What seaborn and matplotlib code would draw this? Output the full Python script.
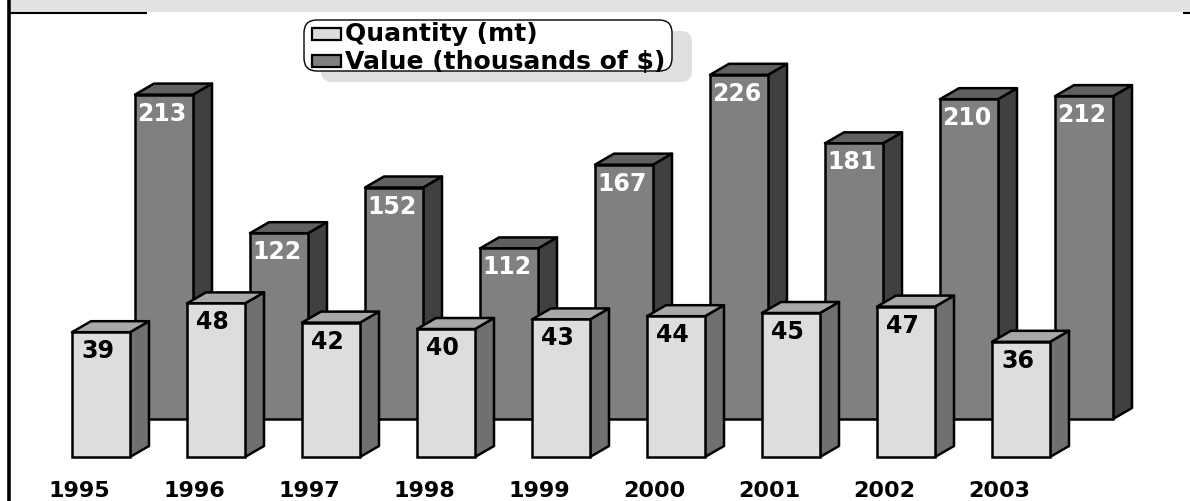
import matplotlib
matplotlib.use("Agg")
import matplotlib.pyplot as plt
from matplotlib.patches import Polygon, Rectangle, FancyBboxPatch
import pandas as pd
import seaborn as sns

years = ["1995", "1996", "1997", "1998", "1999", "2000", "2001", "2002", "2003"]
quantity = [39, 48, 42, 40, 43, 44, 45, 47, 36]
value = [213, 122, 152, 112, 167, 226, 181, 210, 212]
legend_labels = ["Quantity (mt)", "Value (thousands of $)"]

W, H = 1190, 502
EDGE = 1.8
STEP = 115
sns.set_theme(style="white")
plt.rcParams["font.family"] = ["DejaVu Sans"]
fig = plt.figure(figsize=(W / 100, H / 100), dpi=100, facecolor="white")


def make_axes(x0, y0, scale, z):
    ax = fig.add_axes([0, 0, 1, 1], zorder=z)
    ax.patch.set_alpha(0)
    return ax, ((-x0 / STEP, (W - x0) / STEP), (-(H - y0) / scale, y0 / scale))


def draw_series(ax, lims, series, face, top, side, scale, txt, label_dx, label_dy):
    df = pd.DataFrame({"year": years, "v": series})
    sns.barplot(data=df, x="year", y="v", ax=ax, color=face, saturation=1, width=58 / STEP,
                edgecolor="black", linewidth=EDGE, zorder=3, errorbar=None, order=years)
    ax.set_xlim(*lims[0])
    ax.set_ylim(*lims[1])
    ax.axis("off")
    dx, dy = 19 / STEP, 11 / scale
    for bar, val in zip(ax.patches, series):
        l, r, h = bar.get_x(), bar.get_x() + bar.get_width(), bar.get_height()
        ax.add_patch(Polygon([(r, 0), (r + dx, dy), (r + dx, h + dy), (r, h)], closed=True,
                             facecolor=side, edgecolor="black", lw=EDGE, joinstyle="round", zorder=2))
        ax.add_patch(Polygon([(l, h), (l + dx, h + dy), (r + dx, h + dy), (r, h)], closed=True,
                             facecolor=top, edgecolor="black", lw=EDGE, joinstyle="round", zorder=2))
        ax.text((l + r) / 2 + label_dx / STEP, h - label_dy / scale, str(val), ha="center", va="center",
                color=txt, fontsize=17, fontweight="bold", zorder=5)


ax_back, lims_back = make_axes(164, 420, 1.523, 1)
draw_series(ax_back, lims_back, value, "#808080", "#606060", "#404040", 1.523, "white", -2, 18)
ax_front, lims_front = make_axes(101, 458, 3.2, 2)
draw_series(ax_front, lims_front, quantity, "#DDDDDD", "#A8A8A8", "#707070", 3.2, "black", -3.5, 18)

for i, y in enumerate(years):
    ax_front.text(i - 22 / STEP, -33.5 / 3.2, y, ha="center", va="center", fontsize=16,
                  fontweight="bold", color="black", zorder=6)

# overlay in pixel units: frame and legend
ov = fig.add_axes([0, 0, 1, 1], zorder=3)
ov.set_xlim(0, W)
ov.set_ylim(H, 0)
ov.axis("off")
ov.patch.set_alpha(0)
ov.add_patch(Rectangle((11, 0), W - 11, 13, facecolor="#E2E2E2", edgecolor="none"))
ov.plot([9, 9], [0, H], color="black", lw=2.6, solid_capstyle="butt")
ov.plot([9, 147], [14.3, 14.3], color="black", lw=1.5, solid_capstyle="butt")
ov.plot([1183, W], [14.3, 14.3], color="black", lw=1.5, solid_capstyle="butt")

ov.add_patch(FancyBboxPatch((321, 32), 371, 51, boxstyle="round,pad=0,rounding_size=11",
                            facecolor="#DFDFDF", edgecolor="none"))
ov.add_patch(FancyBboxPatch((304, 21), 368, 51, boxstyle="round,pad=0,rounding_size=13",
                            facecolor="white", edgecolor="black", lw=1.0))
for lab, yc, col in zip(legend_labels, [34.5, 62], ["#DDDDDD", "#808080"]):
    ov.add_patch(Rectangle((312, yc - 6), 29, 12, facecolor=col, edgecolor="black", lw=1.6))
    ov.text(345, yc, lab, ha="left", va="center", fontsize=18, fontweight="bold", color="black")

fig.savefig("out.png", dpi=100)
